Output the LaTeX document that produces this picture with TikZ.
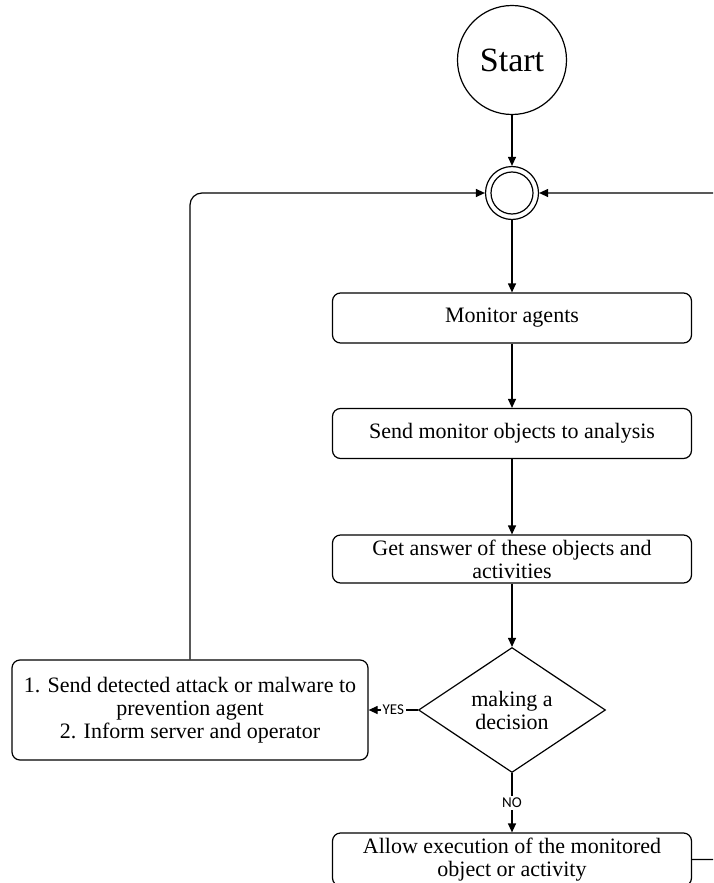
\documentclass[tikz,border=0pt]{standalone}
\usepackage{fontspec}
\setmainfont{Liberation Serif}
\newfontfamily\yesnofont{Carlito}
\usetikzlibrary{arrows.meta}
\usetikzlibrary{shapes.geometric}
\tikzset{
	stepbox/.style={draw, rounded corners=4pt, minimum width=179.5pt, minimum height=25pt,
		align=center, inner sep=2pt, font=\fontsize{11}{11.5}\selectfont},
	flow/.style={-{Triangle[length=4.5pt,width=4pt]}},
	choice/.style={fill=white, inner sep=1pt, font=\yesnofont\fontsize{7.5}{8}\selectfont},
}

\begin{document}
\begin{tikzpicture}[x=0.5pt, y=-0.5pt, line width=0.6pt]

	\useasboundingbox (0,0) rectangle (713,883);
	\clip (0,0) rectangle (713,883);

	% start and junction
	\path (512,60) node[draw, circle, minimum size=54.5pt, font=\fontsize{17}{20}\selectfont] (start) {Start}
	(512,193) node[draw, circle, minimum size=26.5pt] (junc) {};
	\draw (junc.center) circle[radius=10.5pt];

	% main column
	\path (512,318) node[stepbox] (monitor) {Monitor agents}
	(512,433.5) node[stepbox] (send) {Send monitor objects to analysis}
	(512,559) node[stepbox, minimum height=24pt] (answer) {Get answer of these objects and\\activities}
	(512,710) node[draw, diamond, aspect=1.5, minimum width=93.5pt, minimum height=62.5pt,
		inner sep=0pt, align=center, font=\fontsize{11}{11.5}\selectfont] (decide) {making a\\decision}
	(190,710) node[stepbox, minimum width=178pt, minimum height=50pt] (alarm)
		{1. Send detected attack or malware to\\prevention agent\\2. Inform server and operator}
	(512,859.5) node[stepbox, minimum height=26.5pt] (allow) {Allow execution of the monitored\\object or activity};

	\draw[flow] (start) -- (junc);
	\draw[flow] (junc) -- (monitor);
	\draw[flow] (monitor) -- (send);
	\draw[flow] (send) -- (answer);
	\draw[flow] (answer) -- (decide);
	\draw[flow] (decide) -- node[choice] {YES} (alarm);
	\draw[flow] (decide) -- node[choice] {NO} (allow);

	% loops back to the junction
	\draw[flow, rounded corners=6pt] (alarm) |- (junc);
	\draw[flow, rounded corners=6pt] (allow.east) -- ++(60,0) |- (junc);

\end{tikzpicture}
\end{document}
